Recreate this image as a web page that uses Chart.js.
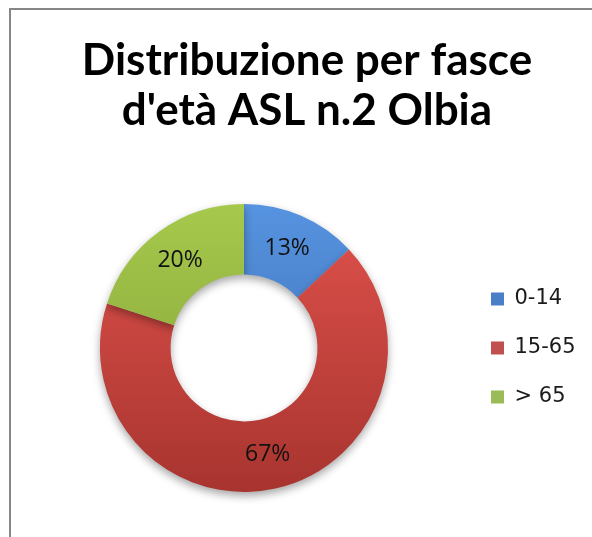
<!DOCTYPE html>
<html><head><meta charset="utf-8">
<script src="https://cdn.jsdelivr.net/npm/chart.js@4.4.1/dist/chart.umd.min.js"></script>
<style>
html,body{margin:0;padding:0;overflow:hidden;background:#fff;width:592px;height:537px}
#frame{position:absolute;left:9px;top:8px;width:800px;height:800px;border-left:2px solid #868686;border-top:2px solid #868686}
#c{position:absolute;left:0;top:0}
</style></head><body>
<div id="frame"></div>
<canvas id="c" width="614" height="537"></canvas>
<script>
const titleLines = ["Distribuzione per fasce", "d'età ASL n.2 Olbia"];
const categories = ["0-14", "15-65", "> 65"];
const percentages = [13, 67, 20];

const baseColors = ["#4a7fc8", "#c0504d", "#9bbb59"];
const lightColors = ["#5693e0", "#e0524c", "#a6c94c"];
const darkColors = ["#3a68aa", "#a8342f", "#7f9c34"];

function sliceFill(ctx) {
  const chart = ctx.chart;
  const i = ctx.dataIndex;
  const area = chart.chartArea;
  if (!area || i === undefined) return baseColors[i || 0];
  const g = chart.ctx.createLinearGradient(0, area.top, 0, area.bottom);
  g.addColorStop(0, lightColors[i]);
  g.addColorStop(1, darkColors[i]);
  return g;
}

const legendWidthPlugin = {
  id: 'legendWidth',
  beforeLayout(chart) {
    const lg = chart.legend;
    if (lg && !lg._patched) {
      const orig = lg.fit;
      lg.fit = function () { orig.call(this); this.width = 126; };
      lg._patched = true;
    }
  }
};

const shadowPlugin = {
  id: 'ringShadow',
  beforeDatasetDraw(chart) {
    const c = chart.ctx;
    c.save();
    c.shadowColor = 'rgba(0,0,0,0.35)';
    c.shadowBlur = 8;
    c.shadowOffsetY = 4;
  },
  afterDatasetDraw(chart) {
    chart.ctx.restore();
  }
};

const sliceLabels = {
  id: 'sliceLabels',
  afterDatasetsDraw(chart) {
    const c = chart.ctx;
    const meta = chart.getDatasetMeta(0);
    c.save();
    c.font = '23px "Open Sans"';
    c.fillStyle = '#111';
    c.textAlign = 'center';
    c.textBaseline = 'middle';
    meta.data.forEach((arc, i) => {
      const p = arc.tooltipPosition();
      c.fillText(percentages[i] + '%', p.x, p.y);
    });
    c.restore();
  }
};

new Chart(document.getElementById('c'), {
  type: 'doughnut',
  data: {
    labels: categories,
    datasets: [{
      data: percentages,
      backgroundColor: sliceFill,
      borderWidth: 0
    }]
  },
  options: {
    responsive: false,
    animation: false,
    cutout: '51%',
    layout: { padding: { left: 25, right: 25, top: 0, bottom: 45 } },
    plugins: {
      tooltip: { enabled: false },
      title: {
        display: true,
        text: titleLines,
        color: '#000',
        font: { family: 'Lato', size: 44, weight: 'bold', lineHeight: 1.136 },
        padding: { top: 36, bottom: 68 }
      },
      legend: {
        position: 'right',
        align: 'center',
        fullSize: false,
        labels: {
          boxWidth: 13,
          boxHeight: 13,
          padding: 28,
          color: '#1a1a1a',
          font: { family: 'DejaVu Sans', size: 21 },
          generateLabels(chart) {
            return categories.map((t, i) => ({
              text: t,
              fillStyle: baseColors[i],
              strokeStyle: baseColors[i],
              lineWidth: 0,
              hidden: false,
              index: i,
              fontColor: '#1a1a1a'
            }));
          }
        }
      }
    }
  },
  plugins: [legendWidthPlugin, shadowPlugin, sliceLabels]
});
</script>
</body></html>
